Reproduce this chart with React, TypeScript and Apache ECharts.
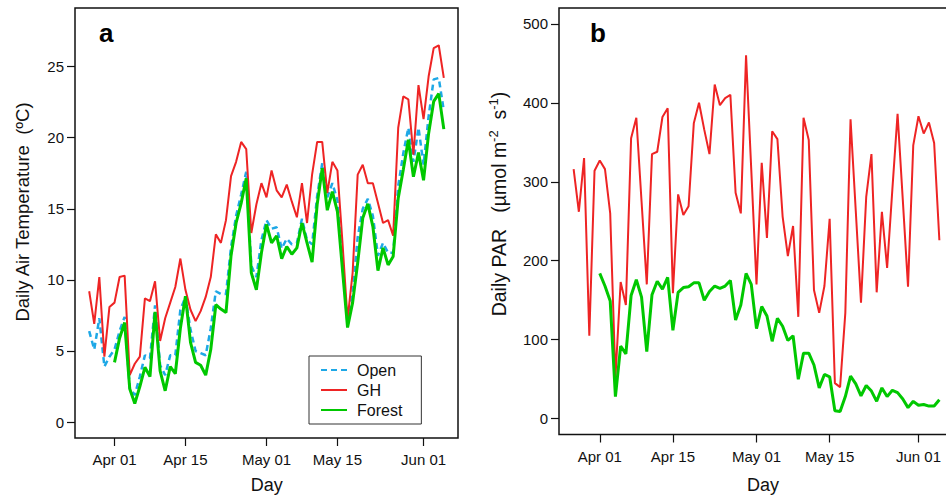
import React, { useEffect, useRef } from "react";
import * as echarts from "echarts";

// Day offsets relative to Apr 01 (Mar 27 .. Jun 05)
const firstDay = -5;
const lastDay = 65;
const days: number[] = [];
for (let d = firstDay; d <= lastDay; d++) days.push(d);

const tickDays = [0, 14, 30, 44, 61];
const tickLabels = ["Apr 01", "Apr 15", "May 01", "May 15", "Jun 01"];
const tempTicks = [0, 5, 10, 15, 20, 25];
const parTicks = [0, 100, 200, 300, 400, 500];

// Panel a: daily air temperature (°C), days -5..65
const openTemp = [
  6.4, 5.1, 7.3, 3.9, 4.6,
  5.1, 6.4, 7.4, 2.4, 1.9, 3.2, 4.7, 4.5, 8.2, 4.0,
  3.3, 4.7, 4.7, 7.9, 8.8, 6.5, 5.0, 4.85, 4.7, 6.6,
  9.2, 9.0, 9.0, 12.3, 14.5, 16.0, 17.6, 11.0, 10.2, 12.8,
  14.2, 13.6, 13.7, 12.2, 12.9, 12.5, 12.6, 14.3, 12.8, 12.5,
  15.9, 18.2, 15.8, 16.8, 15.6, 11.0, 6.9, 9.1, 13.0, 15.0,
  15.7, 14.5, 11.7, 12.6, 11.9, 11.9, 16.6, 18.9, 20.7, 18.3,
  20.7, 18.1, 21.5, 24.1, 24.2, 21.9,
];
const ghTemp = [
  9.2, 6.9, 10.2, 4.6, 8.1,
  8.4, 10.2, 10.3, 3.3, 4.1, 4.6, 8.7, 8.5, 9.9, 5.7,
  7.3, 8.4, 9.5, 11.5, 9.3, 7.9, 7.1, 7.8, 8.8, 10.2,
  13.2, 12.6, 14.2, 17.3, 18.3, 19.7, 19.2, 13.3, 15.3, 16.8,
  15.8, 17.7, 16.3, 15.8, 16.7, 15.5, 14.4, 16.8, 14.0, 17.4,
  19.7, 19.7, 16.1, 18.3, 17.7, 12.6, 7.2, 10.5, 17.4, 18.1,
  16.8, 16.8, 15.4, 14.0, 14.2, 13.1, 20.7, 22.9, 22.7, 18.8,
  23.7, 21.3, 24.3, 26.3, 26.5, 24.2,
];
// Forest starts on Apr 01 (day 0)
const forestTemp = [
  null, null, null, null, null,
  4.2, 5.9, 7.0, 2.35, 1.3, 2.5, 3.85, 3.2, 7.75, 3.6,
  2.2, 3.9, 3.4, 6.6, 8.85, 5.6, 4.2, 4.0, 3.3, 5.1,
  8.25, 7.95, 7.7, 11.7, 14.0, 15.4, 17.15, 10.5, 9.3, 11.9,
  13.9, 12.6, 13.1, 11.5, 12.35, 11.8, 12.25, 14.0, 12.6, 11.25,
  15.3, 17.85, 14.9, 16.2, 14.8, 10.7, 6.65, 8.4, 11.2, 14.35,
  15.35, 13.75, 10.65, 12.25, 11.05, 11.65, 15.75, 17.75, 19.85, 17.25,
  18.95, 17.0, 20.3, 22.55, 23.1, 20.6,
];

// Panel b: daily PAR (µmol m-2 s-1)
const ghPar = [
  316, 262, 330, 105, 314,
  327, 316, 260, 52, 173, 144, 355, 381, 275, 170,
  335, 338, 382, 393, 159, 284, 258, 269, 374, 400,
  366, 335, 423, 397, 406, 410, 286, 260, 460, 315,
  170, 324, 229, 364, 354, 256, 206, 244, 129, 381,
  353, 163, 134, 168, 253, 45, 40, 134, 379, 263,
  147, 281, 335, 160, 262, 191, 290, 386, 277, 167,
  346, 383, 361, 375, 349, 226,
];
const forestPar = [
  null, null, null, null, null,
  184, 168, 149, 28, 92, 82, 156, 176, 154, 85,
  157, 174, 164, 179, 112, 160, 166, 167, 172, 172,
  150, 161, 168, 165, 168, 175, 125, 144, 184, 170,
  114, 142, 130, 98, 127, 117, 99, 105, 50, 83,
  83, 68, 39, 56, 53, 10, 9, 28, 54, 44,
  29, 42, 35, 22, 39, 28, 36, 33, 25, 14,
  22, 17, 18, 16, 16, 24,
];

const FONT = "'Liberation Sans', Arial, Helvetica, sans-serif";
const RED = "#EE2424";
const GREEN = "#00C800";
const BLUE = "#1EA8E6";
const INK = "#111111";

const pairs = (vals: (number | null)[]) =>
  days
    .map((d, i) => [d, vals[i]] as [number, number | null])
    .filter((p) => p[1] !== null);

const xAxisFor = (gridIndex: number) => ({
  type: "value" as const,
  gridIndex,
  min: -7.8,
  max: 67.8,
  axisLine: { show: false, onZero: false },
  splitLine: { show: false },
  axisTick: {
    show: true,
    length: 8,
    customValues: tickDays,
    lineStyle: { color: INK, width: 1.2 },
  },
  axisLabel: {
    show: true,
    customValues: tickDays,
    formatter: (v: number) => {
      const k = tickDays.indexOf(Math.round(v));
      return k >= 0 ? tickLabels[k] : "";
    },
    fontSize: 15,
    fontFamily: FONT,
    color: INK,
    margin: 14,
  },
});

const yAxisFor = (gridIndex: number, min: number, max: number, ticks: number[]) => ({
  type: "value" as const,
  gridIndex,
  min,
  max,
  axisLine: { show: false, onZero: false },
  splitLine: { show: false },
  axisTick: {
    show: true,
    length: 8,
    customValues: ticks,
    lineStyle: { color: INK, width: 1.2 },
  },
  axisLabel: {
    show: true,
    customValues: ticks,
    fontSize: 15,
    fontFamily: FONT,
    color: INK,
    margin: 11,
  },
});

export default function App() {
  const ref = useRef<HTMLDivElement>(null);

  useEffect(() => {
    if (!ref.current) return;
    const chart = echarts.init(ref.current, null, { renderer: "svg" });
    const option: any = {
      animation: false,
      backgroundColor: "#ffffff",
      grid: [
        {
          left: 75,
          top: 8,
          width: 383,
          height: 430,
          show: true,
          borderColor: INK,
          borderWidth: 1.5,
          backgroundColor: "transparent",
        },
        {
          left: 559,
          top: 8,
          width: 395,
          height: 426.5,
          show: true,
          borderColor: INK,
          borderWidth: 1.5,
          backgroundColor: "transparent",
        },
      ],
      xAxis: [xAxisFor(0), xAxisFor(1)],
      yAxis: [
        yAxisFor(0, -1.12, 29.12, tempTicks),
        yAxisFor(1, -20, 520, parTicks),
      ],
      legend: {
        data: ["Open", "GH", "Forest"],
        orient: "vertical",
        left: 309,
        top: 356,
        itemWidth: 26,
        itemHeight: 14,
        itemGap: 4,
        padding: [6, 19, 6, 11],
        borderColor: "#333",
        borderWidth: 1,
        backgroundColor: "#fff",
        selectedMode: false,
        itemStyle: { opacity: 0 },
        textStyle: {
          fontSize: 16,
          fontFamily: FONT,
          color: INK,
          padding: [0, 0, 0, 5],
        },
      },
      series: [
        {
          type: "line",
          name: "Open",
          xAxisIndex: 0,
          yAxisIndex: 0,
          data: pairs(openTemp),
          symbol: "none",
          showSymbol: false,
          lineStyle: { color: BLUE, width: 2.5, type: [6, 4] },
          itemStyle: { color: BLUE },
          z: 2,
        },
        {
          type: "line",
          name: "GH",
          xAxisIndex: 0,
          yAxisIndex: 0,
          data: pairs(ghTemp),
          symbol: "none",
          showSymbol: false,
          lineStyle: { color: RED, width: 2 },
          itemStyle: { color: RED },
          z: 3,
        },
        {
          type: "line",
          name: "Forest",
          xAxisIndex: 0,
          yAxisIndex: 0,
          data: pairs(forestTemp),
          symbol: "none",
          showSymbol: false,
          lineStyle: { color: GREEN, width: 3 },
          itemStyle: { color: GREEN },
          z: 4,
        },
        {
          type: "line",
          name: "GH",
          xAxisIndex: 1,
          yAxisIndex: 1,
          data: pairs(ghPar),
          symbol: "none",
          showSymbol: false,
          lineStyle: { color: RED, width: 2 },
          itemStyle: { color: RED },
          z: 3,
        },
        {
          type: "line",
          name: "Forest",
          xAxisIndex: 1,
          yAxisIndex: 1,
          data: pairs(forestPar),
          symbol: "none",
          showSymbol: false,
          lineStyle: { color: GREEN, width: 3 },
          itemStyle: { color: GREEN },
          z: 4,
        },
      ],
      graphic: [
        {
          type: "text",
          x: 99,
          y: 33,
          style: {
            text: "a",
            fontSize: 26,
            fontWeight: "bold",
            fontFamily: FONT,
            fill: "#000",
            align: "left",
            verticalAlign: "middle",
          },
        },
        {
          type: "text",
          x: 590,
          y: 33,
          style: {
            text: "b",
            fontSize: 26,
            fontWeight: "bold",
            fontFamily: FONT,
            fill: "#000",
            align: "left",
            verticalAlign: "middle",
          },
        },
        {
          type: "text",
          x: 22,
          y: 212,
          rotation: Math.PI / 2,
          style: {
            text: "Daily Air Temperature  (\u00baC)",
            fontSize: 18.5,
            fontFamily: FONT,
            fill: INK,
            align: "center",
            verticalAlign: "middle",
          },
        },
        {
          type: "text",
          x: 498,
          y: 204,
          rotation: Math.PI / 2,
          style: {
            text: "{n|Daily PAR   (\u00b5mol m}{s|-2}{n|  s}{s|-1}{n|)}",
            align: "center",
            verticalAlign: "middle",
            rich: {
              n: { fontSize: 19.5, fontFamily: FONT, fill: INK, lineHeight: 22, verticalAlign: "bottom" },
              s: { fontSize: 13, fontFamily: FONT, fill: INK, lineHeight: 22, verticalAlign: "top" },
            },
          },
        },
        {
          type: "text",
          x: 266.7,
          y: 485,
          style: {
            text: "Day",
            fontSize: 18,
            fontFamily: FONT,
            fill: INK,
            align: "center",
            verticalAlign: "middle",
          },
        },
        {
          type: "text",
          x: 763,
          y: 485,
          style: {
            text: "Day",
            fontSize: 18,
            fontFamily: FONT,
            fill: INK,
            align: "center",
            verticalAlign: "middle",
          },
        },
      ],
    };
    chart.setOption(option);
    return () => chart.dispose();
  }, []);

  return (
    <div
      style={{
        position: "fixed",
        left: 0,
        top: 0,
        width: 946,
        height: 500,
        overflow: "hidden",
        background: "#fff",
      }}
    >
      <div ref={ref} style={{ width: 960, height: 500 }} />
    </div>
  );
}
